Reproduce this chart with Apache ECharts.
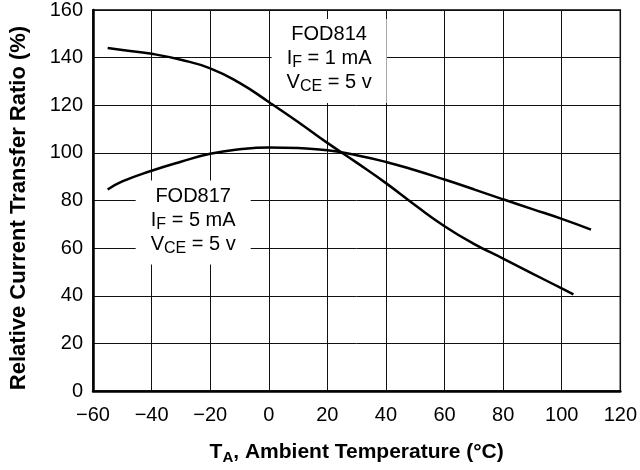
<!DOCTYPE html>
<html>
<head>
<meta charset="utf-8">
<script src="https://cdn.jsdelivr.net/npm/echarts@6/dist/echarts.min.js"></script>
<style>
html,body{margin:0;padding:0;background:#fff;}
#c{width:640px;height:470px;}
</style>
</head>
<body>
<div id="c"></div>
<script>
const fod814X = [-55, -50, -40, -30, -20, -10, 0, 10, 20, 30, 40, 50, 60, 70, 80, 90, 100, 104];
const fod814Y = [144, 143.2, 141.6, 139.1, 135.5, 129.4, 121.4, 113.0, 104.2, 95.9, 87.3, 78, 69.2, 61.8, 55.6, 49.3, 43.1, 40.6];
const fod817X = [-55, -50, -40, -30, -20, -10, 0, 10, 20, 30, 40, 50, 60, 70, 80, 90, 100, 110];
const fod817Y = [84.6, 88, 92.5, 96.3, 99.6, 101.5, 102.3, 102, 101.1, 99, 96.2, 92.7, 88.8, 84.7, 80.5, 76.4, 72.3, 67.8];
const xTicks = {min: -60, max: 120, interval: 20};
const yTicks = {min: 0, max: 160, interval: 20};
const label814 = {x: 20.6, y: 138.6, lines: ['FOD814', '{n|I}{s|F}{n| = 1 mA}', '{n|V}{s|CE}{n| = 5 v}']};
const label817 = {x: -25.8, y: 70.8, lines: ['FOD817', '{n|I}{s|F}{n| = 5 mA}', '{n|V}{s|CE}{n| = 5 v}']};

const FONT = '"Liberation Sans", Arial, Helvetica, sans-serif';
function zip(xs, ys){ return xs.map((x,i)=>[x, ys[i]]); }
const rich = {
  n: {fontSize: 20, lineHeight: 24, fontFamily: FONT, color: '#000'},
  s: {fontSize: 16, lineHeight: 16, verticalAlign: 'bottom', fontFamily: FONT, color: '#000'},
  f: {fontSize: 20, lineHeight: 24, fontFamily: FONT, color: '#000'}
};
function boxLabel(l){
  return {
    coord: [l.x, l.y],
    symbol: 'rect', symbolSize: 0,
    label: {
      show: true, position: 'inside',
      formatter: '{f|' + l.lines[0] + '}\n' + l.lines[1] + '\n' + l.lines[2],
      backgroundColor: '#fff',
      padding: [4, 15, 8, 15],
      align: 'center',
      rich: rich
    }
  };
}
const chart = echarts.init(document.getElementById('c'), null, {renderer: 'canvas'});
const axisCommon = {
  axisTick: {show: false},
  axisLabel: {color: '#000', fontSize: 20, fontFamily: FONT},
  splitLine: {show: true, lineStyle: {color: '#111', width: 1}},
  axisLine: {show: true, onZero: false, lineStyle: {color: '#000', width: 2.5}}
};
chart.setOption({
  backgroundColor: '#fff',
  animation: false,
  grid: {left: 91, right: 14, top: 10, bottom: 75, show: true, borderColor: '#000', borderWidth: 1.5},
  xAxis: Object.assign({}, axisCommon, {
    type: 'value', min: xTicks.min, max: xTicks.max, interval: xTicks.interval,
    axisLabel: Object.assign({}, axisCommon.axisLabel, {margin: 14, formatter: v => v < 0 ? '\u2212' + Math.abs(v) : String(v)}),
    name: '{b|T}{bs|A}{b|, Ambient Temperature (°C)}',
    nameLocation: 'middle', nameGap: 48,
    nameTextStyle: {rich: {
      b: {fontSize: 21, fontWeight: 'bold', fontFamily: FONT, color: '#000', lineHeight: 26},
      bs: {fontSize: 15, fontWeight: 'bold', fontFamily: FONT, color: '#000', lineHeight: 15, verticalAlign: 'bottom'}
    }}
  }),
  yAxis: Object.assign({}, axisCommon, {
    type: 'value', min: yTicks.min, max: yTicks.max, interval: yTicks.interval,
    axisLabel: Object.assign({}, axisCommon.axisLabel, {margin: 10}),
    name: 'Relative Current Transfer Ratio (%)',
    nameLocation: 'middle', nameGap: 63, nameRotate: 90,
    nameTextStyle: {fontSize: 22, fontWeight: 'bold', fontFamily: FONT, color: '#000', padding: [0, 15, 0, 0]}
  }),
  series: [
    {type: 'line', name: 'FOD814', data: zip(fod814X, fod814Y), smooth: 0.5, showSymbol: false,
     lineStyle: {color: '#000', width: 2.5}, z: 3},
    {type: 'line', name: 'FOD817', data: zip(fod817X, fod817Y), smooth: 0.5, showSymbol: false,
     lineStyle: {color: '#000', width: 2.5}, z: 3,
     markPoint: {silent: true, data: [boxLabel(label814), boxLabel(label817)], z: 4}}
  ]
});
</script>
</body>
</html>
